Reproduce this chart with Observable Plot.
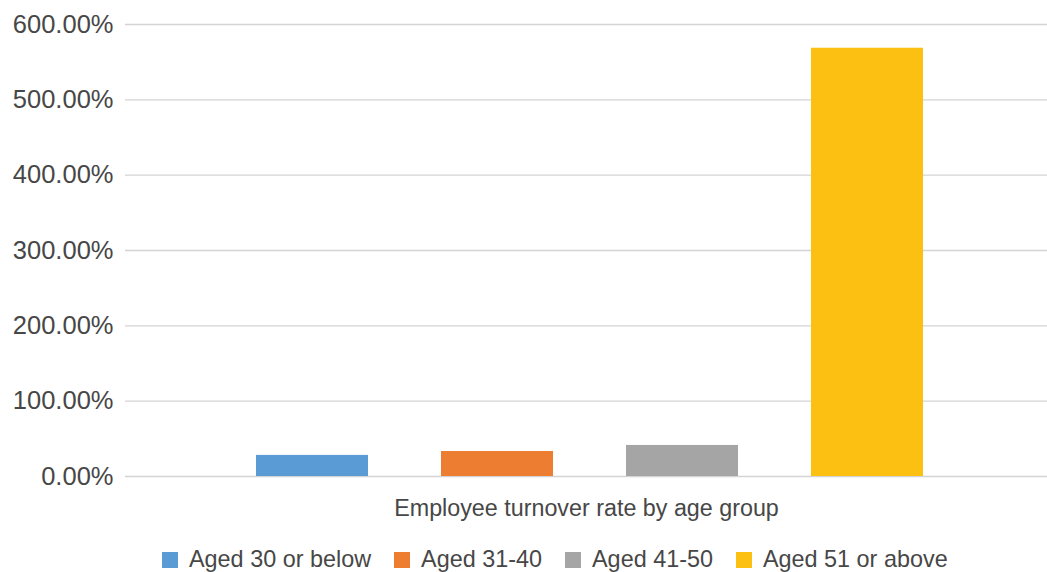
<!DOCTYPE html>
<html>
<head>
<meta charset="utf-8">
<script src="https://cdn.jsdelivr.net/npm/d3@7"></script>
<script src="https://cdn.jsdelivr.net/npm/@observablehq/plot@0.6"></script>
<style>
  html, body { margin: 0; padding: 0; background: #fff; overflow: hidden; }
  body { font-family: "Liberation Sans", Arial, sans-serif; color: #474747; }
  #chart svg { display: block; }
  .legend { display: flex; justify-content: flex-start; align-items: center; height: 30px; margin-top: 14px; padding-left: 162px; font-size: 23.4px; line-height: 27px; color: #474747; }
  .legend .item { display: flex; align-items: center; margin-right: 23px; }
  .legend .swatch { width: 16px; height: 16px; margin-right: 11px; margin-top: 2px; }
</style>
</head>
<body>
<div id="chart"></div>
<div class="legend" id="legend"></div>
<script>
// Employee turnover rate by age group (percent)
const ageGroups = ["Aged 30 or below", "Aged 31-40", "Aged 41-50", "Aged 51 or above"];
const turnoverRates = [28.0, 33.2, 41.2, 568.5];
const groupColors = ["#5B9BD5", "#ED7D31", "#A5A5A5", "#FCC012"];
const yTicks = [0, 100, 200, 300, 400, 500, 600];
const categoryLabel = "Employee turnover rate by age group";

const rows = ageGroups.map((g, i) => ({ group: g, rate: turnoverRates[i] }));

const chart = Plot.plot({
  width: 1047,
  height: 530,
  marginLeft: 125,
  marginRight: 0,
  marginTop: 24,
  marginBottom: 54,
  style: { fontFamily: "'Liberation Sans', Arial, sans-serif", fontSize: "22px", color: "#474747", background: "#fff" },
  x: { domain: ageGroups, paddingInner: 0.396, paddingOuter: 0.683, align: 0.513, axis: null },
  y: { domain: [0, 600], ticks: yTicks, axis: null },
  color: { domain: ageGroups, range: groupColors },
  marks: [
    Plot.ruleY(yTicks, { stroke: "#d4d4d4", strokeWidth: 1.3 }),
    Plot.axisY({ ticks: yTicks, tickSize: 0, tickPadding: 12, tickFormat: d => d.toFixed(2) + "%", fontSize: 25.5, fill: "#474747", label: null }),
    Plot.barY(rows, { x: "group", y: "rate", fill: "group" }),
    Plot.text([categoryLabel], { frameAnchor: "bottom", dy: 32, lineAnchor: "middle", fontSize: 23.3, fill: "#474747", text: d => d })
  ]
});
document.getElementById("chart").appendChild(chart);

const legend = d3.select("#legend");
ageGroups.forEach((g, i) => {
  const item = legend.append("div").attr("class", "item");
  item.append("div").attr("class", "swatch").style("background", groupColors[i]);
  item.append("span").text(g);
});
</script>
</body>
</html>
